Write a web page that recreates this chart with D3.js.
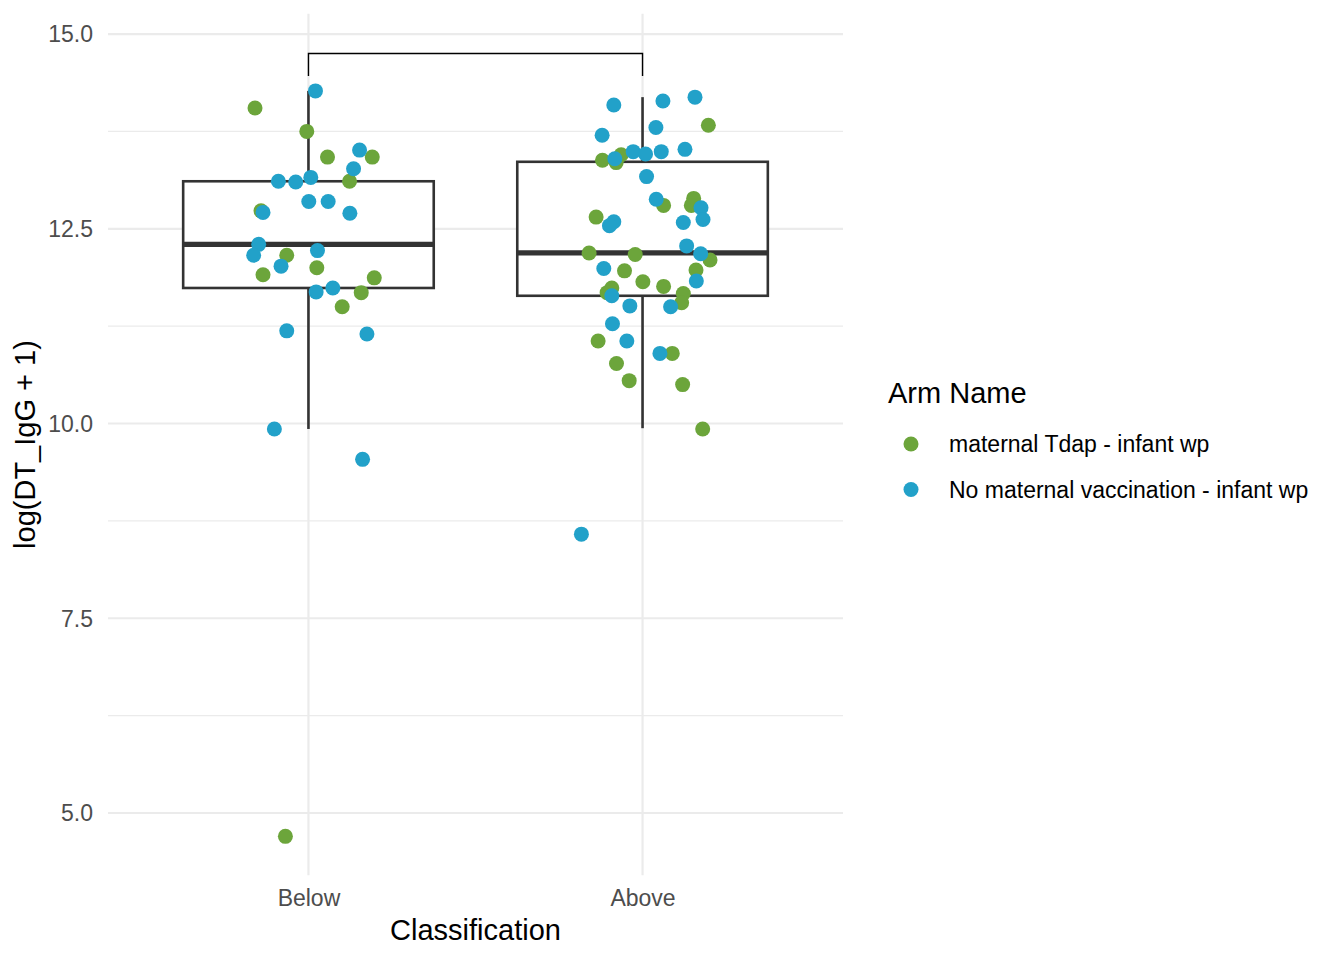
<!DOCTYPE html>
<html>
<head>
<meta charset="utf-8">
<script src="https://cdn.jsdelivr.net/npm/d3@7"></script>
<style>
  body { margin: 0; background: #fff; }
  svg text { font-family: "Liberation Sans", Arial, Helvetica, sans-serif; }
</style>
</head>
<body>
<svg id="chart" width="1344" height="960"></svg>
<script>
'use strict';

// categories and legend
var categories = ['Below', 'Above'];
var armNames = ['maternal Tdap - infant wp', 'No maternal vaccination - infant wp'];
var armColors = ['#6ca53b', '#22a1c9'];

// points: [jitter offset in category units, log(DT_IgG + 1)]
var belowTdap = [
    [-0.160, 14.05], [-0.005, 13.75], [0.057, 13.42], [0.191, 13.42], [0.123, 13.11],
    [-0.142, 12.73], [-0.065, 12.16], [-0.136, 11.91], [0.025, 12.00], [0.197, 11.87],
    [0.158, 11.68], [0.101, 11.50], [-0.069, 4.70]
];
var belowNone = [
    [0.021, 14.27], [0.153, 13.51], [0.135, 13.27], [-0.090, 13.11], [-0.038, 13.10],
    [0.007, 13.16], [0.001, 12.85], [0.059, 12.85], [0.124, 12.70], [-0.136, 12.71],
    [-0.149, 12.30], [-0.164, 12.16], [0.027, 12.22], [-0.082, 12.02], [0.023, 11.69],
    [0.073, 11.74], [-0.065, 11.19], [0.175, 11.15], [-0.102, 9.93], [0.162, 9.54]
];
var aboveTdap = [
    [0.197, 13.83], [-0.120, 13.38], [-0.064, 13.45], [-0.079, 13.35], [0.063, 12.80],
    [0.153, 12.89], [0.146, 12.80], [-0.139, 12.65], [-0.160, 12.19], [-0.022, 12.17],
    [0.202, 12.10], [-0.054, 11.96], [0.160, 11.97], [0.001, 11.82], [0.063, 11.76],
    [-0.092, 11.74], [-0.106, 11.68], [0.122, 11.67], [0.117, 11.55], [-0.133, 11.06],
    [0.089, 10.90], [-0.078, 10.77], [-0.040, 10.55], [0.120, 10.50], [0.180, 9.93]
];
var aboveNone = [
    [-0.086, 14.09], [0.061, 14.14], [0.157, 14.19], [0.040, 13.80], [-0.121, 13.70],
    [-0.083, 13.40], [-0.028, 13.49], [0.009, 13.46], [0.056, 13.49], [0.127, 13.52],
    [0.012, 13.17], [0.041, 12.88], [0.175, 12.77], [0.181, 12.62], [0.122, 12.58],
    [-0.086, 12.59], [-0.099, 12.54], [0.132, 12.28], [0.174, 12.18], [-0.116, 11.99],
    [0.161, 11.83], [-0.092, 11.64], [0.084, 11.50], [-0.038, 11.51], [-0.090, 11.28],
    [-0.047, 11.06], [0.052, 10.90], [-0.183, 8.58]
];

// box statistics per category
var boxLower = [9.93, 9.94];
var boxQ1 = [11.74, 11.64];
var boxMedian = [12.30, 12.19];
var boxQ3 = [13.11, 13.36];
var boxUpper = [14.27, 14.19];

// significance bracket
var bracketTop = 14.75;
var bracketTip = 14.46;

// axis ticks
var yTicks = [5, 7.5, 10, 12.5, 15];
var yMinorTicks = [6.25, 8.75, 11.25, 13.75];

var panel = { left: 108, right: 843, top: 13.8, bottom: 875.3 };

var svg = d3.select('#chart');

var x = d3.scaleLinear().domain([0.4, 2.6]).range([panel.left, panel.right]);
var y = d3.scaleLinear().domain([4.2, 15.26]).range([panel.bottom, panel.top]);
var catPos = function(i) { return x(i + 1); };
var boxHalf = (x(1.375) - x(1));

// grid
var grid = svg.append('g');
grid.selectAll('.minor').data(yMinorTicks).enter().append('line')
    .attr('x1', panel.left).attr('x2', panel.right)
    .attr('y1', function(d) { return y(d); }).attr('y2', function(d) { return y(d); })
    .attr('stroke', '#ebebeb').attr('stroke-width', 1.2);
grid.selectAll('.major').data(yTicks).enter().append('line')
    .attr('x1', panel.left).attr('x2', panel.right)
    .attr('y1', function(d) { return y(d); }).attr('y2', function(d) { return y(d); })
    .attr('stroke', '#ebebeb').attr('stroke-width', 2.2);
grid.selectAll('.vmajor').data(categories).enter().append('line')
    .attr('x1', function(d, i) { return catPos(i); }).attr('x2', function(d, i) { return catPos(i); })
    .attr('y1', panel.top).attr('y2', panel.bottom)
    .attr('stroke', '#ebebeb').attr('stroke-width', 2.2);

// boxes
var boxes = svg.append('g').attr('stroke', '#333333').attr('fill', 'none');
categories.forEach(function(c, i) {
    var cx = catPos(i);
    boxes.append('line').attr('x1', cx).attr('x2', cx)
        .attr('y1', y(boxQ3[i])).attr('y2', y(boxUpper[i])).attr('stroke-width', 2.6);
    boxes.append('line').attr('x1', cx).attr('x2', cx)
        .attr('y1', y(boxQ1[i])).attr('y2', y(boxLower[i])).attr('stroke-width', 2.6);
    boxes.append('rect')
        .attr('x', cx - boxHalf).attr('width', boxHalf * 2)
        .attr('y', y(boxQ3[i])).attr('height', y(boxQ1[i]) - y(boxQ3[i]))
        .attr('fill', '#fff').attr('stroke-width', 2.6);
    boxes.append('line').attr('x1', cx - boxHalf).attr('x2', cx + boxHalf)
        .attr('y1', y(boxMedian[i])).attr('y2', y(boxMedian[i])).attr('stroke-width', 5.2);
});

// jittered points
var groups = [
    { cat: 0, arm: 0, pts: belowTdap },
    { cat: 1, arm: 0, pts: aboveTdap },
    { cat: 0, arm: 1, pts: belowNone },
    { cat: 1, arm: 1, pts: aboveNone }
];
var pointLayer = svg.append('g');
groups.forEach(function(g) {
    pointLayer.selectAll(null).data(g.pts).enter().append('circle')
        .attr('cx', function(d) { return x(g.cat + 1 + d[0]); })
        .attr('cy', function(d) { return y(d[1]); })
        .attr('r', 7.5)
        .attr('fill', armColors[g.arm]);
});

// bracket
var bracket = d3.path();
bracket.moveTo(catPos(0), y(bracketTip));
bracket.lineTo(catPos(0), y(bracketTop));
bracket.lineTo(catPos(1), y(bracketTop));
bracket.lineTo(catPos(1), y(bracketTip));
svg.append('path').attr('d', bracket.toString())
    .attr('fill', 'none').attr('stroke', '#000').attr('stroke-width', 1.4);

// axes
var yAxis = svg.append('g')
    .attr('transform', 'translate(' + panel.left + ',0)')
    .call(d3.axisLeft(y).tickValues(yTicks).tickFormat(d3.format('.1f')).tickSize(0).tickPadding(15));
yAxis.select('.domain').remove();
yAxis.selectAll('text').attr('fill', '#4d4d4d').style('font-size', '23px').attr('dy', '0.34em');

var xAxis = svg.append('g')
    .attr('transform', 'translate(0,' + panel.bottom + ')')
    .call(d3.axisBottom(x).tickValues([1, 2]).tickFormat(function(d) { return categories[d - 1]; })
        .tickSize(0).tickPadding(14));
xAxis.select('.domain').remove();
xAxis.selectAll('text').attr('fill', '#4d4d4d').style('font-size', '23px');

svg.append('text')
    .attr('x', (panel.left + panel.right) / 2).attr('y', 940)
    .attr('text-anchor', 'middle').style('font-size', '29px').attr('fill', '#000')
    .text('Classification');

svg.append('text')
    .attr('transform', 'translate(35,' + ((panel.top + panel.bottom) / 2) + ') rotate(-90)')
    .attr('text-anchor', 'middle').style('font-size', '29px').attr('fill', '#000')
    .text('log(DT_IgG + 1)');

// legend
var legend = svg.append('g');
legend.append('text').attr('x', 888).attr('y', 403)
    .style('font-size', '29px').attr('fill', '#000').text('Arm Name');
var legendRows = [444, 489.5];
legend.selectAll('circle').data(armNames).enter().append('circle')
    .attr('cx', 911).attr('cy', function(d, i) { return legendRows[i]; })
    .attr('r', 7.5).attr('fill', function(d, i) { return armColors[i]; });
legend.selectAll('.lab').data(armNames).enter().append('text')
    .attr('x', 949).attr('y', function(d, i) { return legendRows[i] + 8; })
    .style('font-size', '23px').attr('fill', '#000')
    .text(function(d) { return d; });
</script>
</body>
</html>
